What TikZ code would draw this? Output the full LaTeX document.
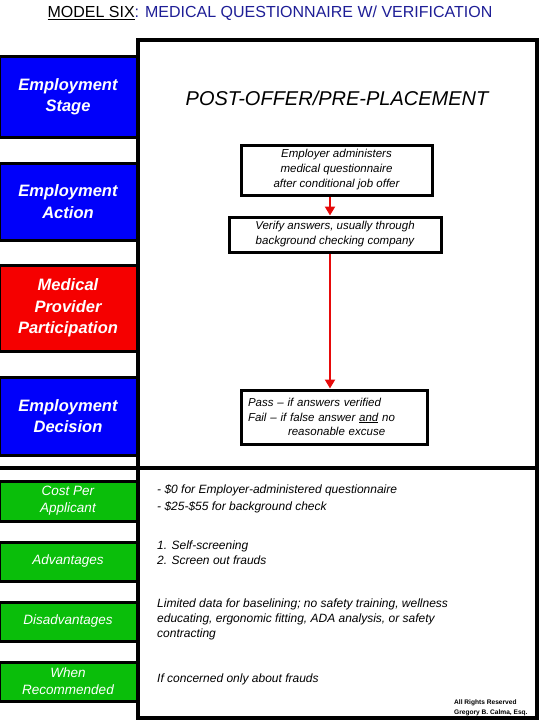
\documentclass[tikz,border=0pt]{standalone}
\usepackage{fontspec}
\setmainfont{Liberation Sans}
\usetikzlibrary{arrows.meta}
\definecolor{stageblue}{RGB}{0,0,250}
\definecolor{providerred}{RGB}{245,0,0}
\definecolor{factgreen}{RGB}{10,190,10}
\definecolor{titleblue}{RGB}{30,30,150}
\definecolor{flowred}{RGB}{230,10,10}
\tikzset{
  sidebox/.style={draw=black, line width=3pt, minimum width=138pt, text=white, align=center, inner sep=0pt},
  stagebox/.style={sidebox, fill=stageblue, font=\fontsize{16.5}{21.5}\selectfont\bfseries\itshape},
  providerbox/.style={sidebox, fill=providerred, font=\fontsize{16.5}{21.5}\selectfont\bfseries\itshape},
  factbox/.style={sidebox, fill=factgreen, font=\fontsize{13.5}{17}\selectfont\itshape},
  flowbox/.style={draw, line width=3pt, fill=white, align=center, inner sep=0pt, font=\fontsize{11.5}{15}\selectfont\itshape},
  bodytext/.style={anchor=west, align=left, inner sep=0pt, font=\fontsize{12}{14.8}\selectfont\itshape},
  flowarrow/.style={draw=flowred, line width=2.8pt, -{Triangle[width=10pt,length=9pt]}}
}
\begin{document}
\begin{tikzpicture}[x=1pt, y=-1pt]
\useasboundingbox (0,0) rectangle (540,720);
\clip (0,0) rectangle (540,720);
\node[font=\fontsize{16}{19}\selectfont] (heading) at (270,13) {\underline{MODEL SIX}\textcolor{titleblue}{: MEDICAL QUESTIONNAIRE W/ VERIFICATION}};
% frame of the model
\draw[line width=3.5pt] (138,40) rectangle (537,718);
\draw[line width=3.5pt] (0,468) -- (537,468);
% left column
\node[stagebox, minimum height=81pt] (stage) at (68,96.5) {Employment\\Stage};
\node[stagebox, minimum height=77pt] (action) at (68,201.5) {Employment\\Action};
\node[providerbox, minimum height=86pt] (provider) at (68,308) {Medical\\Provider\\Participation};
\node[stagebox, minimum height=78pt] (decision) at (68,416) {Employment\\Decision};
\node[factbox, minimum height=40pt] (cost) at (68,501) {Cost Per\\Applicant};
\node[factbox, minimum height=39pt] (pros) at (68,561.5) {Advantages};
\node[factbox, minimum height=39pt] (cons) at (68,621.5) {Disadvantages};
\node[factbox, minimum height=39pt] (when) at (68,681.5) {When\\Recommended};
% flow
\node[font=\fontsize{20}{24}\selectfont\itshape] (phase) at (337,98) {POST-OFFER/PRE-PLACEMENT};
\node[flowbox, minimum width=191pt, minimum height=50pt] (employer) at (336.5,170) {Employer administers\\medical questionnaire\\after conditional job offer};
\node[flowbox, minimum width=212pt, minimum height=35pt] (verify) at (335,234.5) {Verify answers, usually through\\background checking company};
\node[flowbox, minimum width=186pt, minimum height=54pt, align=left, text width=172pt, inner xsep=7pt, font=\fontsize{11.5}{14.5}\selectfont\itshape] (verdict) at (334,417)
  {Pass -- if answers verified\\Fail -- if false answer \underline{and} no\\\hspace*{40pt}reasonable excuse};
\coordinate (spine) at (330,0);
\draw[flowarrow] (employer.south -| spine) -- (verify.north -| spine);
\draw[flowarrow] (verify.south -| spine) -- (verdict.north -| spine);
% facts
\node[bodytext, font=\fontsize{12}{17.5}\selectfont\itshape] (costtext) at (157,499) {- \$0 for Employer-administered questionnaire\\- \$25-\$55 for background check};
\node[bodytext, font=\fontsize{12}{15}\selectfont\itshape] (prostext) at (157,552.5) {1. Self-screening\\2. Screen out frauds};
\node[bodytext] (constext) at (157,619.5) {Limited data for baselining; no safety training, wellness\\educating, ergonomic fitting, ADA analysis, or safety\\contracting};
\node[bodytext] (whentext) at (157,679) {If concerned only about frauds};
\node[anchor=west, align=left, inner sep=0pt, font=\fontsize{6.6}{9.5}\selectfont\bfseries] (rights) at (454,708) {All Rights Reserved\\Gregory B. Calma, Esq.};
\end{tikzpicture}
\end{document}
